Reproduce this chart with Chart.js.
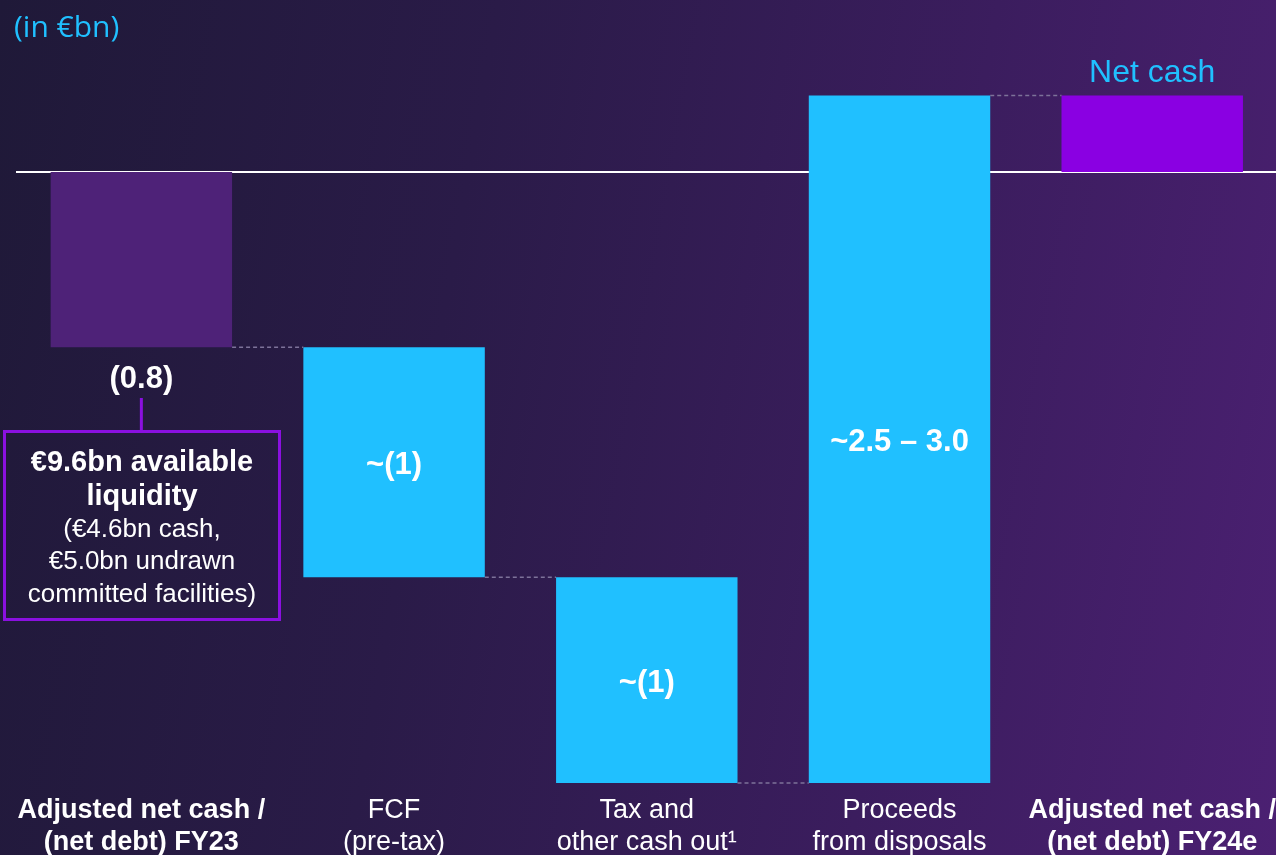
<!DOCTYPE html>
<html>
<head>
<meta charset="utf-8">
<script src="https://cdn.jsdelivr.net/npm/chart.js@4.4.1/dist/chart.umd.min.js"></script>
<style>
  html, body { margin:0; padding:0; }
  body {
    width:1276px; height:855px; overflow:hidden;
    background: linear-gradient(100deg, #1f1938 0%, #2a1b48 35%, #3b1d5e 70%, #4b2072 100%);
  }
  #wrap { position:relative; width:1280px; height:855px; }
</style>
</head>
<body>
<div id="wrap"><canvas id="bridge"></canvas></div>
<script>
// categories (x-axis labels, two lines each)
var categories = [
    ['Adjusted net cash /', '(net debt) FY23'],
    ['FCF', '(pre-tax)'],
    ['Tax and', 'other cash out\u00B9'],
    ['Proceeds', 'from disposals'],
    ['Adjusted net cash /', '(net debt) FY24e']
];
// floating bars: start and end of each step (in €bn)
var barStart = [0, -0.8, -1.85, -2.79, 0];
var barEnd   = [-0.8, -1.85, -2.79, 0.35, 0.35];
var valueLabels = ['(0.8)', '~(1)', '~(1)', '~2.5 \u2013 3.0', ''];
var barColors = ['#4e2278', '#20c0ff', '#20c0ff', '#20c0ff', '#8a00e2'];

var CYAN = '#20c0ff';
var PURPLE = '#8a10e0';
var FONT = 'Arial, "Liberation Sans", sans-serif';

// zero line, drawn under the bars
var zeroLine = {
    id: 'zeroLine',
    beforeDatasetsDraw: function(chart) {
        var ctx = chart.ctx, y = chart.scales.y.getPixelForValue(0);
        ctx.save();
        ctx.strokeStyle = '#ffffff';
        ctx.lineWidth = 2;
        ctx.beginPath();
        ctx.moveTo(16, y);
        ctx.lineTo(chart.width, y);
        ctx.stroke();
        ctx.restore();
    }
};

// connectors, value labels, liquidity box
var annotations = {
    id: 'annotations',
    afterDatasetsDraw: function(chart) {
        var ctx = chart.ctx;
        var yScale = chart.scales.y;
        var bars = chart.getDatasetMeta(0).data;
        ctx.save();

        // dashed connectors between steps
        ctx.strokeStyle = '#7d7299';
        ctx.lineWidth = 1.5;
        ctx.setLineDash([4, 3]);
        for (var i = 0; i < bars.length - 1; i++) {
            var yy = yScale.getPixelForValue(barEnd[i]);
            ctx.beginPath();
            ctx.moveTo(bars[i].x + bars[i].width / 2, yy);
            ctx.lineTo(bars[i + 1].x - bars[i + 1].width / 2, yy);
            ctx.stroke();
        }
        ctx.setLineDash([]);

        // value labels
        ctx.fillStyle = '#ffffff';
        ctx.textAlign = 'center';
        ctx.textBaseline = 'middle';
        ctx.font = 'bold 31px ' + FONT;
        bars.forEach(function(b, i) {
            if (!valueLabels[i]) return;
            var y;
            if (i === 0) y = yScale.getPixelForValue(barEnd[0]) + 32;
            else y = (yScale.getPixelForValue(barStart[i]) + yScale.getPixelForValue(barEnd[i])) / 2 + 3;
            ctx.fillText(valueLabels[i], b.x, y);
        });

        // "Net cash" above last bar
        var last = bars[bars.length - 1];
        ctx.fillStyle = CYAN;
        ctx.font = '32px ' + FONT;
        ctx.fillText('Net cash', last.x, yScale.getPixelForValue(barEnd[4]) - 22);

        // liquidity box under first bar
        var cx = bars[0].x;
        ctx.strokeStyle = PURPLE;
        ctx.lineWidth = 3;
        ctx.beginPath();
        ctx.moveTo(cx, 398);
        ctx.lineTo(cx, 431);
        ctx.stroke();
        ctx.strokeRect(4.5, 431.5, 275, 188);

        ctx.fillStyle = '#ffffff';
        ctx.font = 'bold 29px ' + FONT;
        ctx.fillText('\u20AC9.6bn available', 142, 463);
        ctx.fillText('liquidity', 142, 497);
        ctx.font = '26px ' + FONT;
        ctx.fillText('(\u20AC4.6bn cash,', 142, 530);
        ctx.fillText('\u20AC5.0bn undrawn', 142, 562);
        ctx.fillText('committed facilities)', 142, 595);

        // unit note
        ctx.textAlign = 'left';
        ctx.fillStyle = CYAN;
        ctx.font = '30px "Open Sans", sans-serif';
        ctx.fillText('(in \u20ACbn)', 14, 28);

        ctx.restore();
    }
};

var ctx = document.getElementById('bridge').getContext('2d');
new Chart(ctx, {
    type: 'bar',
    data: {
        labels: categories,
        datasets: [{
            data: barStart.map(function(s, i) { return [s, barEnd[i]]; }),
            backgroundColor: barColors,
            borderWidth: 0,
            barPercentage: 0.718,
            categoryPercentage: 1
        }]
    },
    options: {
        responsive: true,
        maintainAspectRatio: false,
        animation: false,
        layout: { padding: { top: 60, left: 15, right: 0, bottom: -8 } },
        plugins: { legend: { display: false }, tooltip: { enabled: false } },
        scales: {
            x: {
                grid: { display: false, drawTicks: false },
                border: { display: false },
                ticks: {
                    color: '#ffffff',
                    padding: 4,
                    maxRotation: 0,
                    autoSkip: false,
                    font: function(c) {
                        var bold = c.index === 0 || c.index === 4;
                        return { family: FONT, size: 27, lineHeight: 1.19, weight: bold ? 'bold' : 'normal' };
                    }
                }
            },
            y: {
                display: false,
                min: -2.825,
                max: 0.512
            }
        }
    },
    plugins: [zeroLine, annotations]
});
</script>
</body>
</html>
